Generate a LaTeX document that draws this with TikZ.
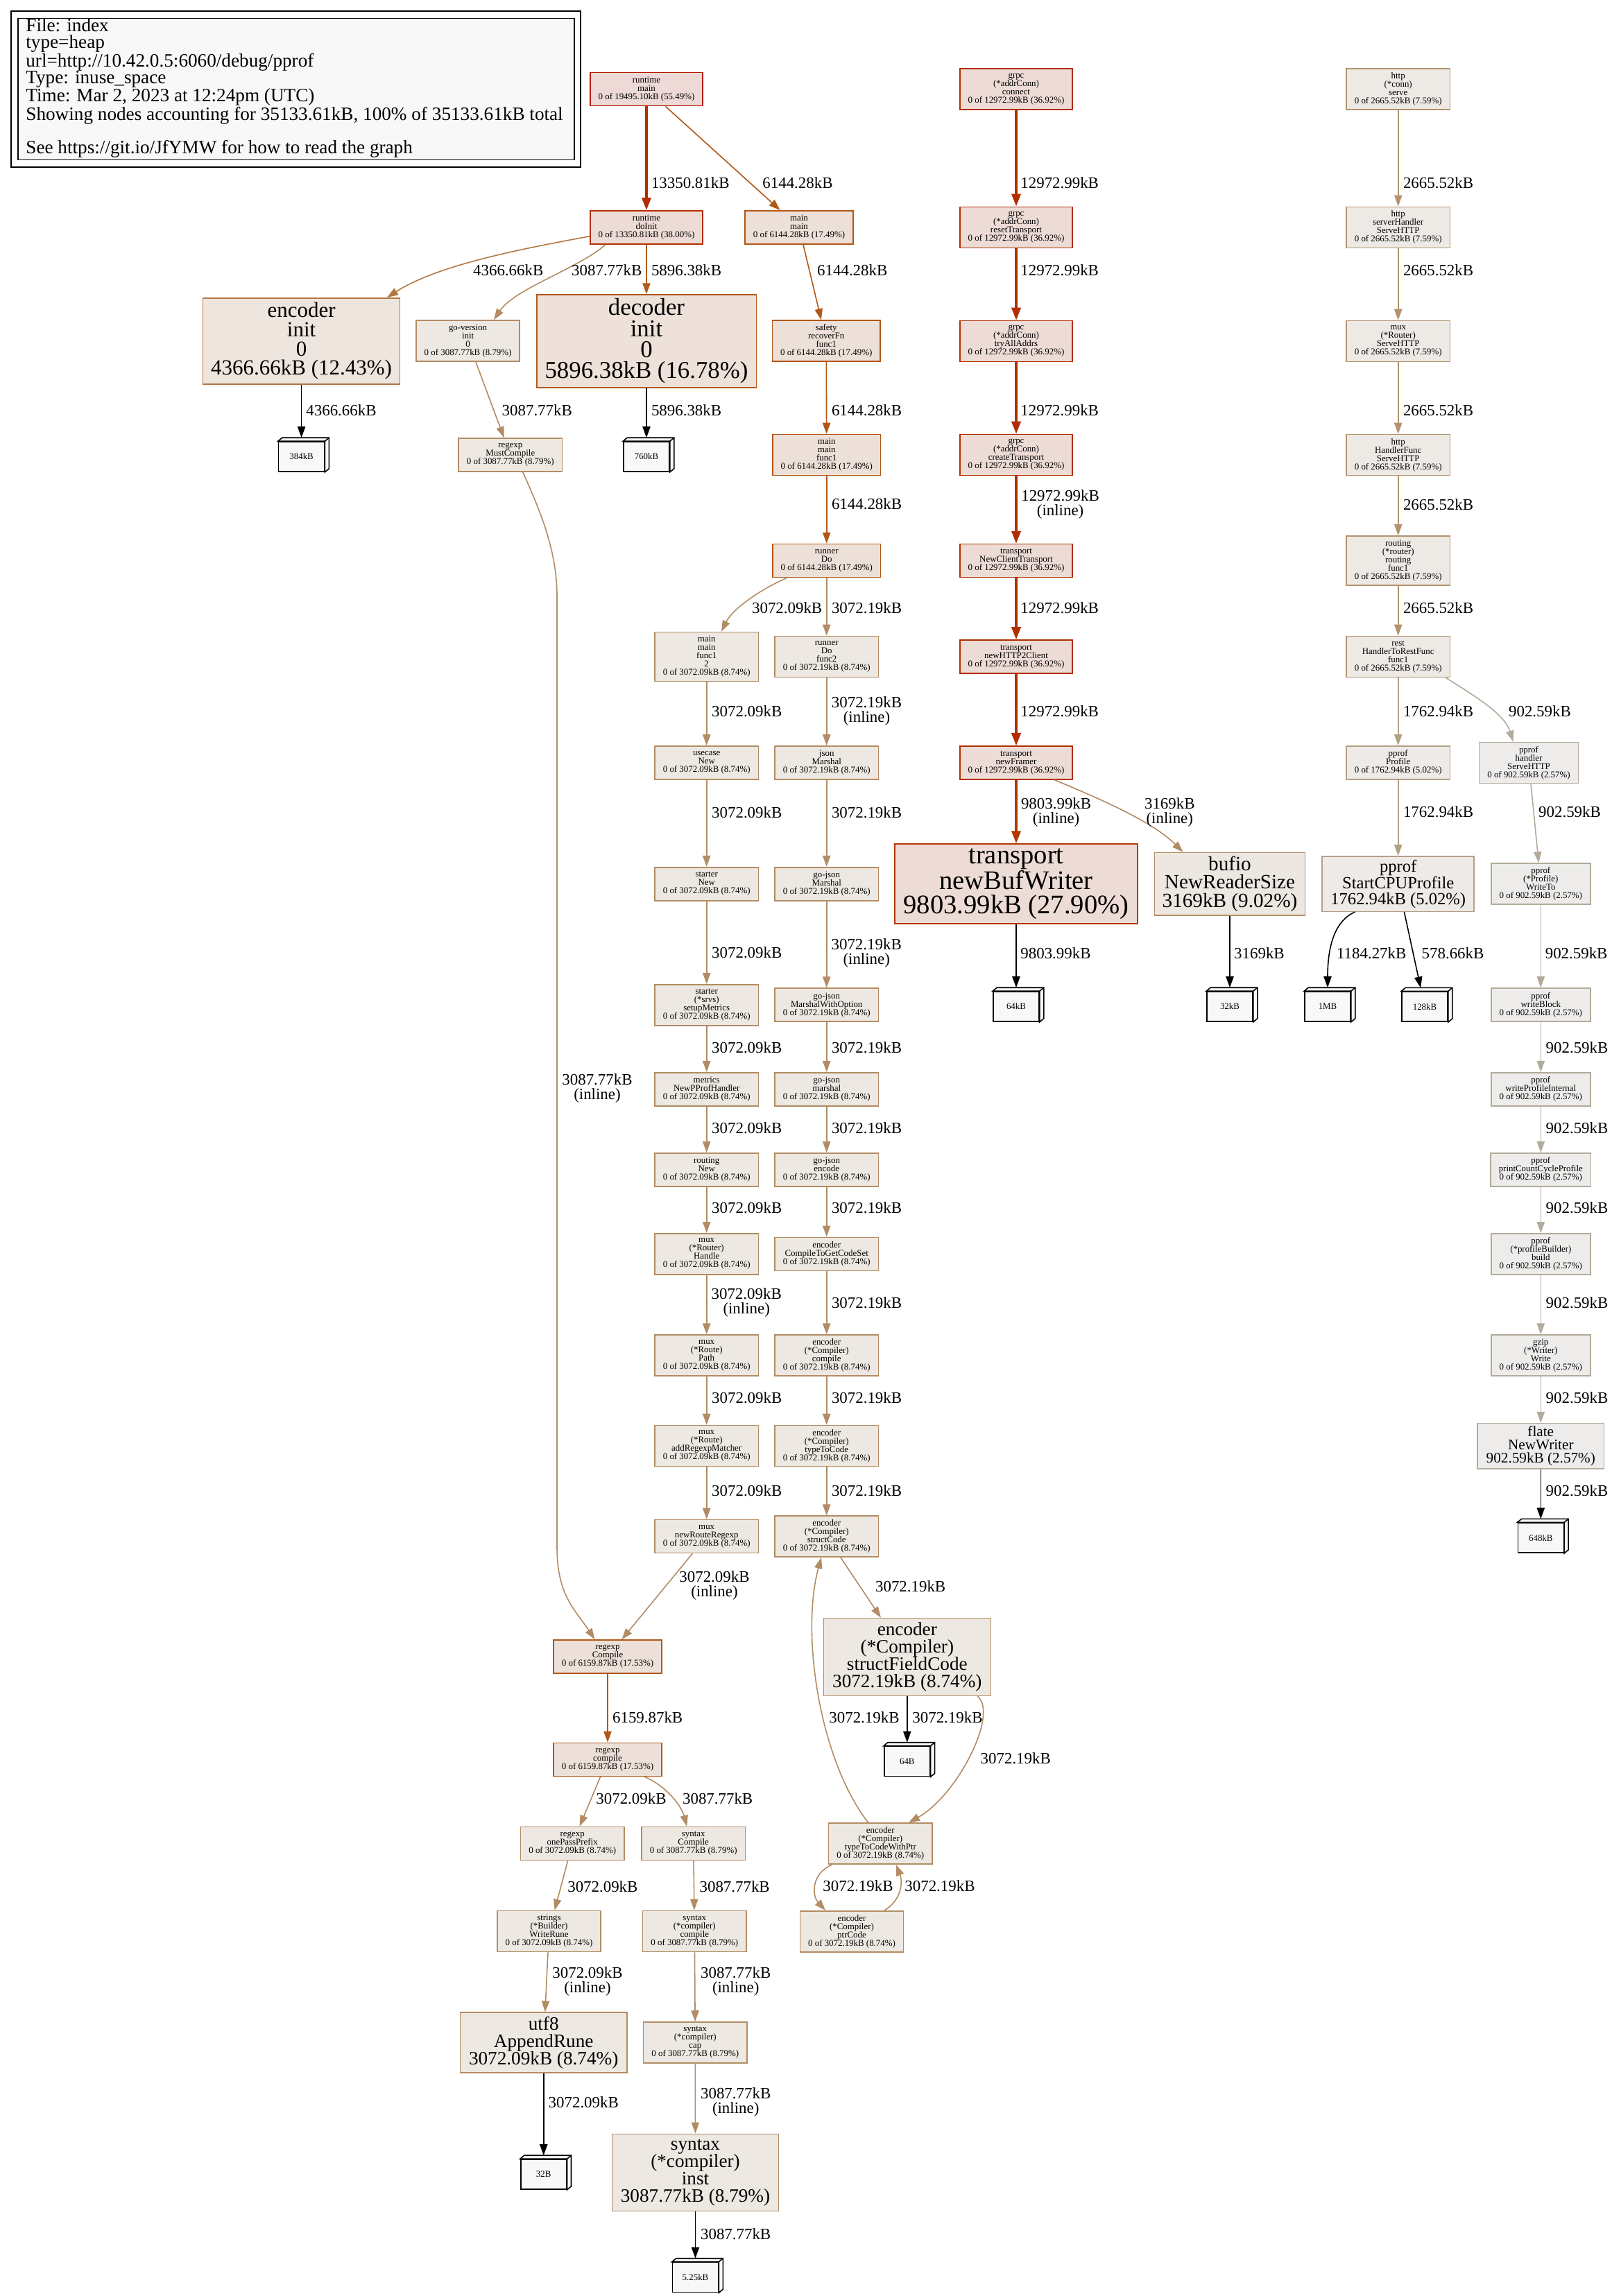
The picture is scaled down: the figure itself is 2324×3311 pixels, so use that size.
\documentclass[tikz,border=0pt]{standalone}
\usepackage{fontspec}
\setmainfont{Liberation Serif}
\usetikzlibrary{arrows.meta}
\definecolor{b55}{HTML}{B21C00}\definecolor{f55}{HTML}{EDD9D5}
\definecolor{b38}{HTML}{B22D00}\definecolor{f38}{HTML}{EDDBD5}
\definecolor{b37}{HTML}{B22E00}\definecolor{f37}{HTML}{EDDBD5}
\definecolor{b28}{HTML}{B23800}\definecolor{f28}{HTML}{EDDCD5}
\definecolor{b17}{HTML}{B25616}\definecolor{f17}{HTML}{EDE0D8}
\definecolor{b16}{HTML}{B25A1C}\definecolor{f16}{HTML}{EDE1D9}
\definecolor{b12}{HTML}{B27743}\definecolor{f12}{HTML}{EDE5DE}
\definecolor{b9}{HTML}{B28B62}\definecolor{f9}{HTML}{EDE7E2}
\definecolor{b8}{HTML}{B28C64}\definecolor{f8}{HTML}{EDE8E2}
\definecolor{b7}{HTML}{B2936E}\definecolor{f7}{HTML}{EDE9E4}
\definecolor{b5}{HTML}{B2A085}\definecolor{f5}{HTML}{EDEAE7}
\definecolor{b2}{HTML}{B2AA9B}\definecolor{f2}{HTML}{EDECEA}
\definecolor{tagfill}{HTML}{F8F8F8}
\newcommand\fnfont{\fontsize{6.45}{6}\selectfont}
\newcommand\lblfont{\fontsize{11.45}{10.5}\selectfont}
\newcommand\legfont{\fontsize{13.6}{12}\selectfont}

\begin{document}
\begin{tikzpicture}[
  x=0.5pt, y=-0.5pt,
  every node/.style={align=center},
  fn/.style={draw, line width=0.8pt, font=\fnfont, inner xsep=5.9pt, inner ysep=0pt},
  l3/.style={minimum height=24pt},
  l4/.style={minimum height=29.5pt},
  l5/.style={minimum height=35.5pt},
  big/.style n args={4}{draw, line width=0.8pt, inner sep=0pt, minimum width=#1, minimum height=#2, font=\fontsize{#3}{#4}\selectfont},
  tag/.style={draw=black, fill=tagfill, line width=0.8pt, minimum width=33pt, minimum height=21.5pt, inner sep=0pt, font=\fnfont},
  n55/.style={draw=b55, fill=f55}, n38/.style={draw=b38, fill=f38},
  n37/.style={draw=b37, fill=f37}, n28/.style={draw=b28, fill=f28},
  n17/.style={draw=b17, fill=f17}, n16/.style={draw=b16, fill=f16},
  n12/.style={draw=b12, fill=f12}, n9/.style={draw=b9, fill=f9},
  n8/.style={draw=b8, fill=f8}, n7/.style={draw=b7, fill=f7},
  n5/.style={draw=b5, fill=f5}, n2/.style={draw=b2, fill=f2},
  wire/.style={line width=0.8pt, -{Triangle[length=8pt,width=5.6pt]}},
  heavy/.style={line width=1.6pt, -{Triangle[length=9pt,width=6.6pt]}},
  totag/.style={wire, black, shorten >=2.5pt},
  wl/.style={font=\lblfont, anchor=west, inner sep=0pt},
  wl2/.style={font=\lblfont, inner sep=0pt}
]
\fill[white] (0,0) rectangle (2324,3311);
\useasboundingbox (0,0) rectangle (2324,3311);

\draw[line width=1pt, fill=white] (16,16) rectangle (837,241);
\node[draw, line width=0.8pt, fill=tagfill, minimum width=401pt, minimum height=102pt, inner sep=0pt] (legendbox) at (427,128.5) {};
\node[font=\legfont, align=left, anchor=west, inner sep=0pt] (legend) at (37,127) {File: index\\type=heap\\url=http://10.42.0.5:6060/debug/pprof\\Type: inuse\_space\\Time: Mar 2, 2023 at 12:24pm (UTC)\\Showing nodes accounting for 35133.61kB, 100\% of 35133.61kB total\\ ~\\See https://git.io/JfYMW for how to read the graph};

\node[fn, l3, n55] (rmain) at (932,128.5) {runtime\\main\\0 of 19495.10kB (55.49\%)};
\node[fn, l3, n38] (doinit) at (932,327.8) {runtime\\doInit\\0 of 13350.81kB (38.00\%)};
\node[fn, l3, n17] (mainmain) at (1152,327.8) {main\\main\\0 of 6144.28kB (17.49\%)};
\node[big={142pt}{62pt}{15.5}{13.8}, n12] (encinit) at (434.6,491.8) {encoder\\init\\0\\4366.66kB (12.43\%)};
\node[fn, l4, n8] (goversion) at (674.6,491.5) {go-version\\init\\0\\0 of 3087.77kB (8.79\%)};
\node[big={158.3pt}{66.85pt}{17.4}{15.2}, n16] (decinit) at (932,491.9) {decoder\\init\\0\\5896.38kB (16.78\%)};
\node[fn, l4, n17] (recoverfn) at (1191.2,491.5) {safety\\recoverFn\\func1\\0 of 6144.28kB (17.49\%)};
\node[fn, l3, n8] (mustcompile) at (735.8,656) {regexp\\MustCompile\\0 of 3087.77kB (8.79\%)};
\node[fn, l4, n17] (mainfunc1) at (1191.7,656) {main\\main\\func1\\0 of 6144.28kB (17.49\%)};
\node[fn, l3, n17] (runnerdo) at (1191.7,808.6) {runner\\Do\\0 of 6144.28kB (17.49\%)};
\node[fn, l5, n8] (mainfunc12) at (1018.7,947) {main\\main\\func1\\2\\0 of 3072.09kB (8.74\%)};
\node[fn, l4, n8] (dofunc2) at (1191.7,947) {runner\\Do\\func2\\0 of 3072.19kB (8.74\%)};
\node[fn, l3, n8] (usecasenew) at (1018.7,1100) {usecase\\New\\0 of 3072.09kB (8.74\%)};
\node[fn, l3, n8] (jsonmarshal) at (1191.7,1100) {json\\Marshal\\0 of 3072.19kB (8.74\%)};
\node[fn, l3, n8] (starternew) at (1018.7,1274.7) {starter\\New\\0 of 3072.09kB (8.74\%)};
\node[fn, l3, n8] (gojsonmarshal) at (1191.7,1274.7) {go-json\\Marshal\\0 of 3072.19kB (8.74\%)};
\node[fn, l4, n8] (setupmetrics) at (1018.7,1449.2) {starter\\(*srvs)\\setupMetrics\\0 of 3072.09kB (8.74\%)};
\node[fn, l3, n8] (marshalopt) at (1191.7,1449.2) {go-json\\MarshalWithOption\\0 of 3072.19kB (8.74\%)};
\node[fn, l3, n8] (pprofhandler) at (1018.7,1570.7) {metrics\\NewPProfHandler\\0 of 3072.09kB (8.74\%)};
\node[fn, l3, n8] (gojsonmarshal2) at (1191.7,1570.7) {go-json\\marshal\\0 of 3072.19kB (8.74\%)};
\node[fn, l3, n8] (routingnew) at (1018.7,1686.8) {routing\\New\\0 of 3072.09kB (8.74\%)};
\node[fn, l3, n8] (gojsonencode) at (1191.7,1686.8) {go-json\\encode\\0 of 3072.19kB (8.74\%)};
\node[fn, l4, n8] (muxhandle) at (1018.7,1808.3) {mux\\(*Router)\\Handle\\0 of 3072.09kB (8.74\%)};
\node[fn, l3, n8] (codeset) at (1191.7,1808.3) {encoder\\CompileToGetCodeSet\\0 of 3072.19kB (8.74\%)};
\node[fn, l4, n8] (muxpath) at (1018.7,1954.6) {mux\\(*Route)\\Path\\0 of 3072.09kB (8.74\%)};
\node[fn, l4, n8] (enccompile) at (1191.7,1954.6) {encoder\\(*Compiler)\\compile\\0 of 3072.19kB (8.74\%)};
\node[fn, l4, n8] (addmatcher) at (1018.7,2085) {mux\\(*Route)\\addRegexpMatcher\\0 of 3072.09kB (8.74\%)};
\node[fn, l4, n8] (typetocode) at (1191.7,2085) {encoder\\(*Compiler)\\typeToCode\\0 of 3072.19kB (8.74\%)};
\node[fn, l3, n8] (newrouteregexp) at (1018.7,2215.5) {mux\\newRouteRegexp\\0 of 3072.09kB (8.74\%)};
\node[fn, l4, n8] (structcode) at (1191.7,2215.7) {encoder\\(*Compiler)\\structCode\\0 of 3072.19kB (8.74\%)};
\node[fn, l3, n17] (regexpCompile) at (876,2389) {regexp\\Compile\\0 of 6159.87kB (17.53\%)};
\node[fn, l3, n17] (regexpcompile) at (876,2537.4) {regexp\\compile\\0 of 6159.87kB (17.53\%)};
\node[fn, l3, n8] (onepass) at (825.2,2658.5) {regexp\\onePassPrefix\\0 of 3072.09kB (8.74\%)};
\node[fn, l3, n8] (syntaxCompile) at (999.7,2658.5) {syntax\\Compile\\0 of 3087.77kB (8.79\%)};
\node[fn, l4, n8] (writerune) at (791.5,2785) {strings\\(*Builder)\\WriteRune\\0 of 3072.09kB (8.74\%)};
\node[fn, l4, n8] (syntaxcompile) at (1001.3,2785) {syntax\\(*compiler)\\compile\\0 of 3087.77kB (8.79\%)};
\node[big={120.4pt}{43.25pt}{13.6}{12.6}, n8] (appendrune) at (783.7,2945.5) {utf8\\AppendRune\\3072.09kB (8.74\%)};
\node[fn, l4, n8] (syntaxcap) at (1002.3,2945.5) {syntax\\(*compiler)\\cap\\0 of 3087.77kB (8.79\%)};
\node[big={120pt}{55.65pt}{13.6}{12.6}, n8] (inst) at (1002.5,3133) {syntax\\(*compiler)\\inst\\3087.77kB (8.79\%)};
\node[big={120.5pt}{55.85pt}{13.6}{12.6}, n8] (fieldcode) at (1307.8,2389.5) {encoder\\(*Compiler)\\structFieldCode\\3072.19kB (8.74\%)};
\node[fn, l4, n8] (withptr) at (1269.3,2658.6) {encoder\\(*Compiler)\\typeToCodeWithPtr\\0 of 3072.19kB (8.74\%)};
\node[fn, l4, n8] (ptrcode) at (1228,2785.2) {encoder\\(*Compiler)\\ptrCode\\0 of 3072.19kB (8.74\%)};

\node[fn, l4, n37] (connect) at (1465,128.3) {grpc\\(*addrConn)\\connect\\0 of 12972.99kB (36.92\%)};
\node[fn, l4, n37] (reset) at (1465,327.8) {grpc\\(*addrConn)\\resetTransport\\0 of 12972.99kB (36.92\%)};
\node[fn, l4, n37] (tryall) at (1465,492) {grpc\\(*addrConn)\\tryAllAddrs\\0 of 12972.99kB (36.92\%)};
\node[fn, l4, n37] (create) at (1465,656) {grpc\\(*addrConn)\\createTransport\\0 of 12972.99kB (36.92\%)};
\node[fn, l3, n37] (newclient) at (1465,808.6) {transport\\NewClientTransport\\0 of 12972.99kB (36.92\%)};
\node[fn, l3, n37] (http2client) at (1465,947) {transport\\newHTTP2Client\\0 of 12972.99kB (36.92\%)};
\node[fn, l3, n37] (framer) at (1465,1100) {transport\\newFramer\\0 of 12972.99kB (36.92\%)};
\node[big={175pt}{57.5pt}{19.3}{17.3}, n28] (bufwriter) at (1465,1274.6) {transport\\newBufWriter\\9803.99kB (27.90\%)};
\node[big={108.5pt}{45.3pt}{14.6}{13.2}, n9] (bufio) at (1773,1274.8) {bufio\\NewReaderSize\\3169kB (9.02\%)};

\node[fn, l4, n7] (serve) at (2015.7,128.3) {http\\(*conn)\\serve\\0 of 2665.52kB (7.59\%)};
\node[fn, l4, n7] (serverhandler) at (2015.7,327.8) {http\\serverHandler\\ServeHTTP\\0 of 2665.52kB (7.59\%)};
\node[fn, l4, n7] (muxserve) at (2015.7,492) {mux\\(*Router)\\ServeHTTP\\0 of 2665.52kB (7.59\%)};
\node[fn, l4, n7] (handlerfunc) at (2015.7,656) {http\\HandlerFunc\\ServeHTTP\\0 of 2665.52kB (7.59\%)};
\node[fn, l5, n7] (routingfunc) at (2015.7,808.5) {routing\\(*router)\\routing\\func1\\0 of 2665.52kB (7.59\%)};
\node[fn, l4, n7] (restfunc) at (2015.7,947) {rest\\HandlerToRestFunc\\func1\\0 of 2665.52kB (7.59\%)};
\node[fn, l3, n5] (pprofprofile) at (2015.7,1099.8) {pprof\\Profile\\0 of 1762.94kB (5.02\%)};
\node[big={109.5pt}{39.75pt}{12.3}{11.2}, n5] (startcpu) at (2015.7,1274.6) {pprof\\StartCPUProfile\\1762.94kB (5.02\%)};
\node[fn, l4, n2] (handlerserve) at (2204,1100) {pprof\\handler\\ServeHTTP\\0 of 902.59kB (2.57\%)};
\node[fn, l4, n2] (writeto) at (2221.3,1274.6) {pprof\\(*Profile)\\WriteTo\\0 of 902.59kB (2.57\%)};
\node[fn, l3, n2] (writeblock) at (2221.3,1449) {pprof\\writeBlock\\0 of 902.59kB (2.57\%)};
\node[fn, l3, n2] (wpi) at (2221.3,1570.7) {pprof\\writeProfileInternal\\0 of 902.59kB (2.57\%)};
\node[fn, l3, n2] (pccp) at (2221.3,1686.8) {pprof\\printCountCycleProfile\\0 of 902.59kB (2.57\%)};
\node[fn, l4, n2] (build) at (2221.3,1808.3) {pprof\\(*profileBuilder)\\build\\0 of 902.59kB (2.57\%)};
\node[fn, l4, n2] (gzip) at (2221.3,1954.6) {gzip\\(*Writer)\\Write\\0 of 902.59kB (2.57\%)};
\node[big={91.35pt}{32.8pt}{10.6}{9.6}, n2] (flate) at (2221.3,2085.4) {flate\\NewWriter\\902.59kB (2.57\%)};

\node[tag] (m384) at (434.6,658.5) {384kB};
\node[tag] (m760) at (932,658.5) {760kB};
\node[tag] (m64k) at (1465,1451.5) {64kB};
\node[tag] (m32k) at (1773,1451.5) {32kB};
\node[tag] (m1MB) at (1914,1451.5) {1MB};
\node[tag] (m128k) at (2054,1451.7) {128kB};
\node[tag] (m648) at (2221.3,2217.7) {648kB};
\node[tag] (m64B) at (1307.8,2540) {64B};
\node[tag] (m32B) at (783.7,3135.5) {32B};
\node[tag] (m525) at (1002.5,3284) {5.25kB};
\foreach \m in {m384,m760,m64k,m32k,m1MB,m128k,m648,m64B,m32B,m525} {
  \filldraw[fill=tagfill, line width=0.8pt] (\m.north west) -- ++(6,-5) -| ([shift={(6,-5)}]\m.south east) -- (\m.south east) -- (\m.north east) -- cycle;
  \draw[line width=0.8pt] (\m.north east) -- ++(6,-5);
}

\draw[heavy, b38] (rmain) -- (doinit);
\node[wl] (w1) at (938.6,263.7) {13350.81kB};
\draw[wire, b17] (rmain) -- (mainmain);
\node[wl] (w2) at (1099,263.7) {6144.28kB};
\draw[wire, b12] ([shift={(0,13)}]doinit.west) .. controls +(-110,20) and +(70,-45) .. ([shift={(123.4,0)}]encinit.north);
\node[wl] (w3) at (681.8,389.5) {4366.66kB};
\draw[wire, b8] ([shift={(-58.8,0)}]doinit.south) .. controls +(-40,35) and +(30,-45) .. ([shift={(37.4,0)}]goversion.north);
\node[wl] (w4) at (823.8,389.5) {3087.77kB};
\draw[wire, b16] (doinit) -- (decinit);
\node[wl] (w5) at (938.6,389.5) {5896.38kB};
\draw[wire, b17] (mainmain) -- (recoverfn);
\node[wl] (w6) at (1177.8,389.5) {6144.28kB};
\draw[totag] (encinit) -- (m384);
\node[wl] (w7) at (441,592) {4366.66kB};
\draw[wire, b8] (goversion) -- (mustcompile);
\node[wl] (w8) at (723.3,591.7) {3087.77kB};
\draw[totag] (decinit) -- (m760);
\node[wl] (w9) at (938.6,592) {5896.38kB};
\draw[wire, b17] (recoverfn) -- (mainfunc1);
\node[wl] (w10) at (1198.6,592) {6144.28kB};
\draw[wire, b8] ([shift={(18,0)}]mustcompile.south) .. controls +(22,50) and +(0,-70) .. (803,860) -- (803,2230) .. controls +(0,70) and +(-30,-45) .. ([shift={(-18.4,0)}]regexpCompile.north);
\node[wl2] (w11) at (861,1569.5) {3087.77kB\\(inline)};
\draw[wire, b17] (mainfunc1) -- (runnerdo);
\node[wl] (w12) at (1198.6,727) {6144.28kB};
\draw[wire, b8] ([shift={(-57.5,0)}]runnerdo.south) .. controls +(-45,20) and +(15,-30) .. ([shift={(21.2,0)}]mainfunc12.north);
\node[wl] (w13) at (1083.7,876.3) {3072.09kB};
\draw[wire, b8] (runnerdo) -- (dofunc2);
\node[wl] (w14) at (1198.6,876.3) {3072.19kB};
\draw[wire, b8] (mainfunc12) -- (usecasenew);
\node[wl] (w15) at (1025.8,1025.4) {3072.09kB};
\draw[wire, b8] (dofunc2) -- (jsonmarshal);
\node[wl2] (w16) at (1249.5,1025.5) {3072.19kB\\(inline)};
\draw[wire, b8] (usecasenew) -- (starternew);
\node[wl] (w17) at (1025.8,1171.3) {3072.09kB};
\draw[wire, b8] (jsonmarshal) -- (gojsonmarshal);
\node[wl] (w18) at (1198.6,1171.3) {3072.19kB};
\draw[wire, b8] (starternew) -- (setupmetrics);
\node[wl] (w19) at (1025.8,1373.3) {3072.09kB};
\draw[wire, b8] (gojsonmarshal) -- (marshalopt);
\node[wl2] (w20) at (1249.2,1374) {3072.19kB\\(inline)};
\draw[wire, b8] (setupmetrics) -- (pprofhandler);
\node[wl] (w21) at (1025.8,1510.5) {3072.09kB};
\draw[wire, b8] (marshalopt) -- (gojsonmarshal2);
\node[wl] (w22) at (1198.6,1510.5) {3072.19kB};
\draw[wire, b8] (pprofhandler) -- (routingnew);
\node[wl] (w23) at (1025.8,1626.5) {3072.09kB};
\draw[wire, b8] (gojsonmarshal2) -- (gojsonencode);
\node[wl] (w24) at (1198.6,1626.5) {3072.19kB};
\draw[wire, b8] (routingnew) -- (muxhandle);
\node[wl] (w25) at (1025.8,1742) {3072.09kB};
\draw[wire, b8] (gojsonencode) -- (codeset);
\node[wl] (w26) at (1198.6,1742) {3072.19kB};
\draw[wire, b8] (muxhandle) -- (muxpath);
\node[wl2] (w27) at (1076.2,1878.7) {3072.09kB\\(inline)};
\draw[wire, b8] (codeset) -- (enccompile);
\node[wl] (w28) at (1198.6,1878.4) {3072.19kB};
\draw[wire, b8] (muxpath) -- (addmatcher);
\node[wl] (w29) at (1025.8,2015.6) {3072.09kB};
\draw[wire, b8] (enccompile) -- (typetocode);
\node[wl] (w30) at (1198.6,2015.6) {3072.19kB};
\draw[wire, b8] (addmatcher) -- (newrouteregexp);
\node[wl] (w31) at (1025.8,2150.1) {3072.09kB};
\draw[wire, b8] (typetocode) -- (structcode);
\node[wl] (w32) at (1198.6,2150.1) {3072.19kB};
\draw[wire, b8] (newrouteregexp) -- (regexpCompile);
\node[wl2] (w33) at (1030,2286.7) {3072.09kB\\(inline)};
\draw[wire, b8] (structcode) -- (fieldcode);
\node[wl] (w34) at (1261.7,2287.2) {3072.19kB};
\draw[wire, b17] (regexpCompile) -- (regexpcompile);
\node[wl] (w35) at (882.7,2476.4) {6159.87kB};
\draw[wire, b8] (regexpcompile) -- (onepass);
\node[wl] (w36) at (859,2593.3) {3072.09kB};
\draw[wire, b8] ([shift={(53,0)}]regexpcompile.south) .. controls +(30,12) and +(-8,-30) .. ([shift={(-9.4,0)}]syntaxCompile.north);
\node[wl] (w37) at (983.7,2593.3) {3087.77kB};
\draw[wire, b8] (onepass) -- (writerune);
\node[wl] (w38) at (817.9,2720.9) {3072.09kB};
\draw[wire, b8] (syntaxCompile) -- (syntaxcompile);
\node[wl] (w39) at (1008.2,2720.9) {3087.77kB};
\draw[wire, b8] (writerune) -- (appendrune);
\node[wl2] (w40) at (847,2857.6) {3072.09kB\\(inline)};
\draw[wire, b8] (syntaxcompile) -- (syntaxcap);
\node[wl2] (w41) at (1060.7,2857.6) {3087.77kB\\(inline)};
\draw[totag] (appendrune) -- (m32B);
\node[wl] (w42) at (790.3,3031.3) {3072.09kB};
\draw[wire, b8] (syntaxcap) -- (inst);
\node[wl2] (w43) at (1060.7,3031.7) {3087.77kB\\(inline)};
\draw[totag] (inst) -- (m525);
\node[wl] (w44) at (1009.7,3221.3) {3087.77kB};
\draw[totag] (fieldcode) -- (m64B);
\node[wl] (w45) at (1315,2477) {3072.19kB};
\draw[wire, b8] ([shift={(101.5,0)}]fieldcode.south) .. controls +(31,25) and +(70,-39) .. ([shift={(40.7,0)}]withptr.north);
\node[wl] (w46) at (1413.3,2535.2) {3072.19kB};
\draw[wire, b8] ([shift={(-17.6,0)}]withptr.north) .. controls +(-70,-90) and +(-30,110) .. ([shift={(-7.7,0)}]structcode.south);
\node[wl] (w47) at (1195,2477) {3072.19kB};
\draw[wire, b8] ([shift={(-69.3,0)}]withptr.south) .. controls +(-30,12) and +(-20,-22) .. ([shift={(-38,0)}]ptrcode.north);
\node[wl] (w48) at (1186,2720) {3072.19kB};
\draw[wire, b8] ([shift={(47,0)}]ptrcode.north) .. controls +(25,-15) and +(10,25) .. ([shift={(22.4,0)}]withptr.south);
\node[wl] (w49) at (1304,2720) {3072.19kB};

\draw[heavy, b37] (connect) -- (reset);
\node[wl] (w50) at (1471,264) {12972.99kB};
\draw[heavy, b37] (reset) -- (tryall);
\node[wl] (w51) at (1471,389.3) {12972.99kB};
\draw[heavy, b37] (tryall) -- (create);
\node[wl] (w52) at (1471,591.3) {12972.99kB};
\draw[heavy, b37] (create) -- (newclient);
\node[wl2] (w53) at (1528.6,727.8) {12972.99kB\\(inline)};
\draw[heavy, b37] (newclient) -- (http2client);
\node[wl] (w54) at (1471,876.3) {12972.99kB};
\draw[heavy, b37] (http2client) -- (framer);
\node[wl] (w55) at (1471,1025.4) {12972.99kB};
\draw[heavy, b28] (framer) -- (bufwriter);
\node[wl2] (w56) at (1522.6,1171.5) {9803.99kB\\(inline)};
\draw[wire, b9] ([shift={(55.5,0)}]framer.south) .. controls +(60,25) and +(-45,-45) .. ([shift={(-67.5,0)}]bufio.north);
\node[wl2] (w57) at (1686.3,1171.5) {3169kB\\(inline)};
\draw[totag] (bufwriter) -- (m64k);
\node[wl] (w58) at (1471,1375) {9803.99kB};
\draw[totag] (bufio) -- (m32k);
\node[wl] (w59) at (1778.8,1375) {3169kB};

\draw[wire, b7] (serve) -- (serverhandler);
\node[wl] (w60) at (2022.6,264) {2665.52kB};
\draw[wire, b7] (serverhandler) -- (muxserve);
\node[wl] (w61) at (2022.6,389.3) {2665.52kB};
\draw[wire, b7] (muxserve) -- (handlerfunc);
\node[wl] (w62) at (2022.6,591.3) {2665.52kB};
\draw[wire, b7] (handlerfunc) -- (routingfunc);
\node[wl] (w63) at (2022.6,727.7) {2665.52kB};
\draw[wire, b7] (routingfunc) -- (restfunc);
\node[wl] (w64) at (2022.6,876.8) {2665.52kB};
\draw[wire, b5] (restfunc) -- (pprofprofile);
\node[wl] (w65) at (2022.6,1025.4) {1762.94kB};
\draw[wire, b2] ([shift={(68.5,0)}]restfunc.south) .. controls +(40,25) and +(-12,-40) .. ([shift={(-22.5,0)}]handlerserve.north);
\node[wl] (w66) at (2174.7,1025.4) {902.59kB};
\draw[wire, b5] (pprofprofile) -- (startcpu);
\node[wl] (w67) at (2022.6,1171) {1762.94kB};
\draw[wire, b2] (handlerserve) -- (writeto);
\node[wl] (w68) at (2217.8,1171) {902.59kB};
\draw[wire, black] ([shift={(-62.3,0)}]startcpu.south) .. controls +(-35,15) and +(0,-45) .. ([yshift=2.5pt]m1MB.north);
\node[wl] (w69) at (1926.7,1375) {1184.27kB};
\draw[totag] (startcpu) -- (m128k);
\node[wl] (w70) at (2049.3,1375) {578.66kB};
\draw[wire, b2] (writeto) -- (writeblock);
\node[wl] (w71) at (2227.4,1375) {902.59kB};
\draw[wire, b2] (writeblock) -- (wpi);
\node[wl] (w72) at (2228.3,1510.5) {902.59kB};
\draw[wire, b2] (wpi) -- (pccp);
\node[wl] (w73) at (2228.3,1626.5) {902.59kB};
\draw[wire, b2] (pccp) -- (build);
\node[wl] (w74) at (2228.3,1742) {902.59kB};
\draw[wire, b2] (build) -- (gzip);
\node[wl] (w75) at (2228.3,1878.4) {902.59kB};
\draw[wire, b2] (gzip) -- (flate);
\node[wl] (w76) at (2228.3,2015.6) {902.59kB};
\draw[totag] (flate) -- (m648);
\node[wl] (w77) at (2228.3,2150.1) {902.59kB};
\end{tikzpicture}
\end{document}
